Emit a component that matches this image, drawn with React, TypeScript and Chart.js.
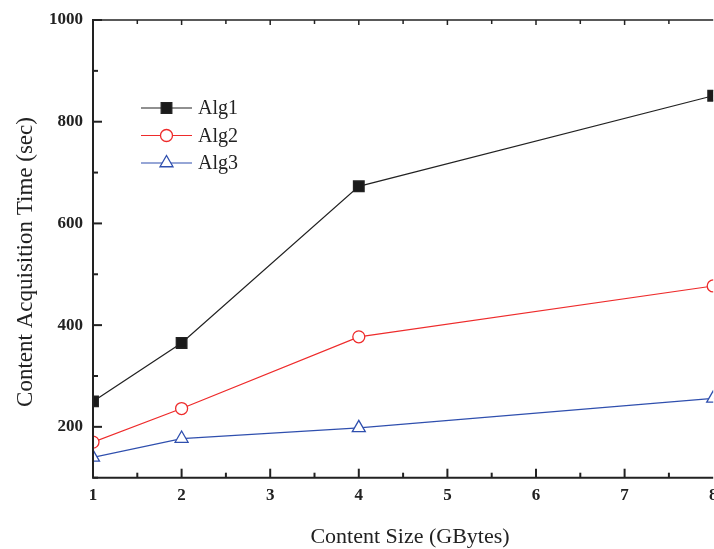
import React, { useEffect, useRef } from "react";
import { Chart, registerables } from "chart.js";
import { drawPoint } from "chart.js/helpers";

Chart.register(...registerables);

// ---- data ----
const sizes = [1, 2, 4, 8];
const alg1 = [250, 365, 673, 851];
const alg2 = [170, 236, 377, 477];
const alg3 = [140, 177, 198, 256];
const seriesNames = ["Alg1", "Alg2", "Alg3"];
const yTickLabels = [200, 400, 600, 800, 1000];
const xTickLabels = [1, 2, 3, 4, 5, 6, 7, 8];
const xTitle = "Content Size (GBytes)";
const yTitle = "Content Acquisition Time (sec)";

const SERIF = "'Liberation Serif', 'Times New Roman', serif";
const AXIS = "#222222";
const CANVAS_W = 722;
const CANVAS_H = 549;

const framePlugin = {
  id: "frameAndLegend",
  afterDatasetsDraw(chart: any) {
    const { ctx, chartArea: a, scales } = chart;
    const x = scales.x;
    const y = scales.y;
    ctx.save();
    ctx.strokeStyle = AXIS;
    ctx.lineCap = "butt";

    // top border
    ctx.lineWidth = 1.5;
    ctx.beginPath();
    ctx.moveTo(a.left, a.top);
    ctx.lineTo(a.right, a.top);
    ctx.stroke();

    // y ticks (inward)
    ctx.lineWidth = 2;
    for (let v = y.min; v <= y.max; v += 100) {
      const py = y.getPixelForValue(v);
      const len = v % 200 === 0 ? 9 : 5;
      ctx.beginPath();
      ctx.moveTo(a.left, py);
      ctx.lineTo(a.left + len, py);
      ctx.stroke();
    }
    // x ticks (inward)
    for (let v = x.min; v < x.max - 1e-9; v += 0.5) {
      const px = x.getPixelForValue(v);
      const major = Math.abs(v - Math.round(v)) < 1e-9;
      const len = major ? 9 : 5;
      ctx.lineWidth = 2;
      ctx.beginPath();
      ctx.moveTo(px, a.bottom);
      ctx.lineTo(px, a.bottom - len);
      ctx.stroke();
      ctx.lineWidth = 1.5;
      ctx.beginPath();
      ctx.moveTo(px, a.top);
      ctx.lineTo(px, a.top + (major ? 5 : 4));
      ctx.stroke();
    }

    // left & bottom axis lines
    ctx.lineWidth = 2;
    ctx.beginPath();
    ctx.moveTo(a.left, a.top - 1);
    ctx.lineTo(a.left, a.bottom);
    ctx.lineTo(a.right, a.bottom);
    ctx.stroke();

    // axis titles
    ctx.fillStyle = AXIS;
    ctx.font = `22px ${SERIF}`;
    ctx.textAlign = "center";
    ctx.textBaseline = "alphabetic";
    ctx.fillText(xTitle, 410, 543);
    ctx.save();
    ctx.font = `23px ${SERIF}`;
    ctx.translate(32, 262);
    ctx.rotate(-Math.PI / 2);
    ctx.fillText(yTitle, 0, 0);
    ctx.restore();

    // legend
    const rows = [108, 135.5, 163];
    chart.data.datasets.forEach((ds: any, i: number) => {
      const ry = rows[i];
      ctx.strokeStyle = ds.borderColor;
      ctx.lineWidth = ds.borderWidth;
      ctx.beginPath();
      ctx.moveTo(141, ry);
      ctx.lineTo(192, ry);
      ctx.stroke();
      ctx.fillStyle = ds.pointBackgroundColor;
      ctx.strokeStyle = ds.borderColor;
      ctx.lineWidth = ds.pointBorderWidth;
      drawPoint(
        ctx,
        { pointStyle: ds.pointStyle, radius: ds.pointRadius, borderWidth: ds.pointBorderWidth, rotation: 0 },
        166.5,
        ry
      );
      ctx.fillStyle = AXIS;
      ctx.font = `20px ${SERIF}`;
      ctx.textAlign = "left";
      ctx.textBaseline = "middle";
      ctx.fillText(ds.label, 198, ry + 1);
    });
    ctx.restore();
  },
};

export default function App() {
  const canvasRef = useRef<HTMLCanvasElement | null>(null);

  useEffect(() => {
    if (!canvasRef.current) return;
    const mk = (label: string, data: number[], color: string, fill: string, style: string, r: number) => ({
      label,
      data: sizes.map((s, i) => ({ x: s, y: data[i] })),
      borderColor: color,
      backgroundColor: color,
      borderWidth: 1.2,
      pointStyle: style,
      pointRadius: r,
      pointHoverRadius: r,
      pointBackgroundColor: fill,
      pointBorderColor: color,
      pointBorderWidth: 1.3,
      tension: 0,
      clip: 0,
    });
    const chart = new Chart(canvasRef.current, {
      type: "line",
      data: {
        datasets: [
          mk(seriesNames[0], alg1, "#222222", "#1a1a1a", "rect", 7.5),
          mk(seriesNames[1], alg2, "#ee2b2b", "#ffffff", "circle", 6),
          mk(seriesNames[2], alg3, "#2f4fae", "#ffffff", "triangle", 7.5),
        ] as any,
      },
      plugins: [framePlugin],
      options: {
        animation: false,
        responsive: false,
        devicePixelRatio: 1,
        layout: { padding: { top: 20, right: 7, left: 0, bottom: 0 } },
        plugins: { legend: { display: false }, tooltip: { enabled: false } },
        events: [],
        scales: {
          x: {
            type: "linear",
            min: 1,
            max: 8,
            grid: { display: false, drawTicks: false },
            border: { display: false },
            afterBuildTicks: (s: any) => {
              s.ticks = xTickLabels.map((v) => ({ value: v }));
            },
            afterFit: (s: any) => {
              s.height = 71.3;
              s.paddingLeft = 0;
              s.paddingRight = 0;
            },
            ticks: {
              padding: 8,
              color: AXIS,
              maxRotation: 0,
              autoSkip: false,
              font: { family: SERIF, size: 17, weight: "bold" },
              callback: (v: any) => String(v),
            },
          },
          y: {
            type: "linear",
            min: 100,
            max: 1000,
            grid: { display: false, drawTicks: false },
            border: { display: false },
            afterBuildTicks: (s: any) => {
              s.ticks = yTickLabels.map((v) => ({ value: v }));
            },
            afterFit: (s: any) => {
              s.width = 93;
              s.paddingTop = 0;
              s.paddingBottom = 0;
            },
            ticks: {
              padding: 10,
              color: AXIS,
              autoSkip: false,
              font: { family: SERIF, size: 17, weight: "bold" },
              callback: (v: any) => String(v),
            },
          },
        },
      } as any,
    });
    return () => chart.destroy();
  }, []);

  return (
    <div style={{ position: "fixed", left: 0, top: 0, width: 714, height: 549, overflow: "hidden", background: "#fff" }}>
      <canvas ref={canvasRef} width={CANVAS_W} height={CANVAS_H} style={{ display: "block", width: CANVAS_W, height: CANVAS_H }} />
    </div>
  );
}
